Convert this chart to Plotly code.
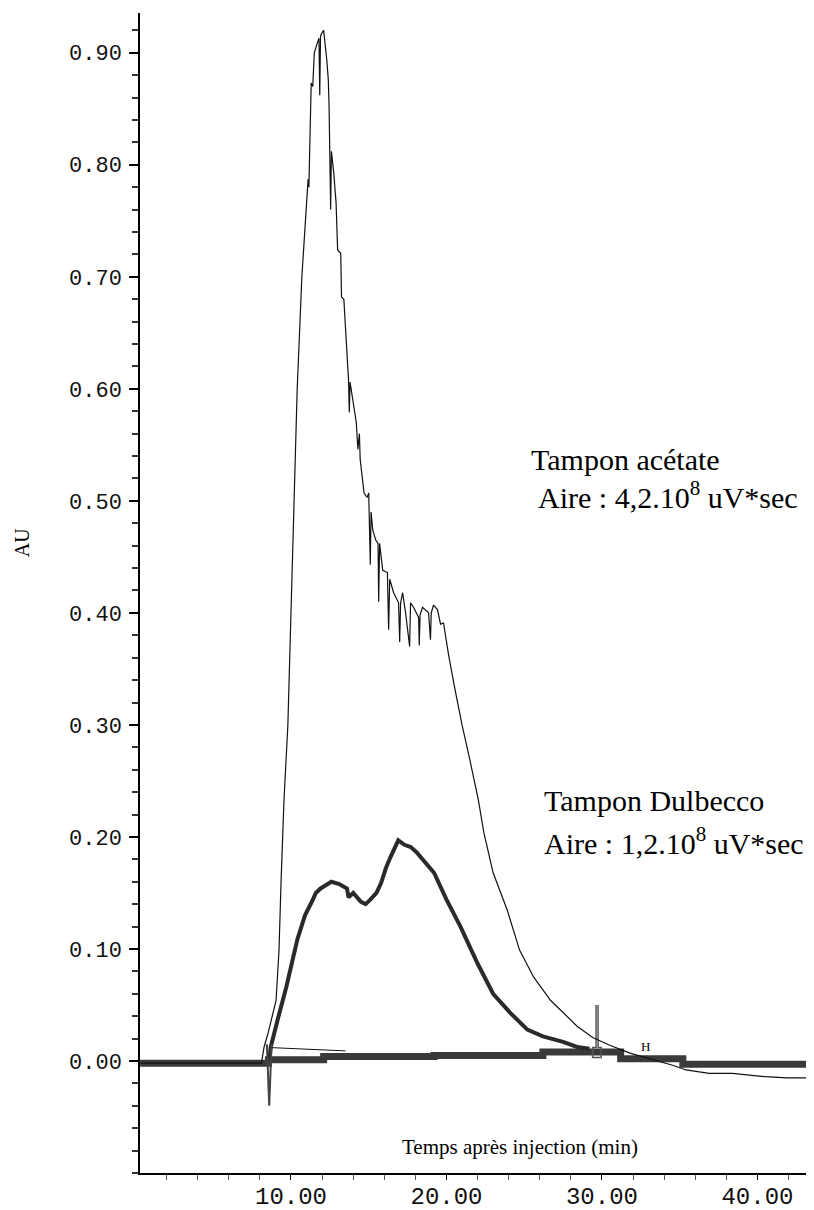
import plotly.graph_objects as go

# ---------------- data ----------------
# Tampon acétate: thin trace (time in min, absorbance in AU)
acetate_t = [0.3, 8.1, 8.27, 8.53, 9.04, 9.23, 9.36, 9.55, 9.8, 10.0, 10.2, 10.4, 10.7,
             10.96, 11.1, 11.15, 11.3, 11.4, 11.5, 11.7, 11.8, 11.85, 11.9, 12.0, 12.1,
             12.3, 12.4, 12.45, 12.5, 12.55, 12.6, 12.75, 12.9, 12.95, 13.0, 13.2, 13.25,
             13.4, 13.55, 13.7, 13.75, 13.8, 14.2, 14.3, 14.4, 14.45, 14.6, 14.7, 14.9,
             15.0, 15.1, 15.15, 15.26, 15.45, 15.6, 15.64, 15.7, 15.9, 16.2, 16.28, 16.35,
             16.6, 16.92, 16.99, 17.05, 17.18, 17.37, 17.63, 17.69, 17.88, 18.21, 18.25,
             18.3, 18.46, 18.85, 18.97, 19.02, 19.17, 19.42, 19.62, 19.81, 20.06, 20.13,
             20.5, 21.0, 21.5, 22.05, 22.4, 23.0, 23.9, 24.7, 25.6, 26.7, 27.3, 28.4,
             29.4, 30.5, 31.8, 33.9, 34.6, 35.4, 36.9, 38.4, 40.5, 41.9, 43.25]
acetate_au = [-0.002, -0.002, 0.0125, 0.025, 0.054, 0.099, 0.159, 0.233, 0.30, 0.40, 0.50, 0.60, 0.70,
              0.757, 0.787, 0.78, 0.873, 0.87, 0.90, 0.909, 0.913, 0.862, 0.915, 0.918, 0.92,
              0.894, 0.876, 0.852, 0.813, 0.76, 0.812, 0.793, 0.766, 0.745, 0.724, 0.721, 0.682,
              0.68, 0.64, 0.608, 0.579, 0.606, 0.57, 0.546, 0.56, 0.537, 0.519, 0.507, 0.503,
              0.507, 0.443, 0.49, 0.474, 0.465, 0.462, 0.41, 0.462, 0.438, 0.436, 0.385, 0.43,
              0.418, 0.409, 0.374, 0.409, 0.418, 0.40, 0.37, 0.409, 0.405, 0.396, 0.371,
              0.398, 0.405, 0.40, 0.376, 0.40, 0.407, 0.403, 0.39, 0.391, 0.367, 0.363,
              0.335, 0.30, 0.269, 0.233, 0.204, 0.168, 0.135, 0.099, 0.075, 0.054, 0.046, 0.031,
              0.021, 0.014, 0.007, -0.001, -0.004, -0.008, -0.011, -0.011, -0.014, -0.015, -0.015]

# Tampon Dulbecco: thick trace
dulbecco_t = [8.6, 8.7, 9.2, 9.7, 10.4, 10.9, 11.3, 11.6, 11.9, 12.3, 12.6, 13.1, 13.6, 13.7,
              14.0, 14.5, 14.8, 15.1, 15.5, 15.8, 16.1, 16.4, 16.7, 16.9, 17.3, 17.7, 18.1,
              18.5, 19.2, 20.0, 20.9, 22.0, 23.0, 24.1, 25.2, 26.2, 27.5, 28.4, 29.2]
dulbecco_au = [0.0, 0.0125, 0.04, 0.066, 0.108, 0.13, 0.141, 0.15, 0.154, 0.158, 0.16, 0.158, 0.154, 0.146,
               0.15, 0.142, 0.14, 0.144, 0.15, 0.159, 0.172, 0.182, 0.19, 0.197, 0.193, 0.191, 0.186,
               0.179, 0.168, 0.144, 0.12, 0.087, 0.06, 0.043, 0.028, 0.022, 0.017, 0.0125, 0.011]

# thick baseline band (stepped)
band_t = [0.3, 8.55, 12.1, 19.2, 26.2, 31.2, 35.2, 43.25]
band_au = [-0.002, 0.001, 0.004, 0.005, 0.008, 0.002, -0.003, -0.003]

# thin integration baseline under the acetate peak
intbase_t = [8.6, 13.5]
intbase_au = [0.012, 0.009]

# event marks (injection spike, end mark)
mark1_t = [8.45, 8.6, 8.75]
mark1_au = [0.015, -0.04, 0.015]
mark2_t = [29.62, 29.62, 29.4, 29.4, 29.95, 29.95, 29.75, 29.75]
mark2_au = [0.05, 0.012, 0.012, 0.003, 0.003, 0.012, 0.012, 0.05]

y_ticks = [0.0, 0.1, 0.2, 0.3, 0.4, 0.5, 0.6, 0.7, 0.8, 0.9]
y_ticktext = ["0.00", "0.10", "0.20", "0.30", "0.40", "0.50", "0.60", "0.70", "0.80", "0.90"]
x_ticks = [10, 20, 30, 40]
x_ticktext = ["10.00", "20.00", "30.00", "40.00"]

# ---------------- figure ----------------
fig = go.Figure()
fig.add_trace(go.Scatter(x=band_t, y=band_au, mode="lines", line_shape="hv",
                         line=dict(color="#3a3a3a", width=7), hoverinfo="skip", showlegend=False))
fig.add_trace(go.Scatter(x=dulbecco_t, y=dulbecco_au, mode="lines",
                         line=dict(color="#2a2a2a", width=4), name="Tampon Dulbecco", showlegend=False))
fig.add_trace(go.Scatter(x=intbase_t, y=intbase_au, mode="lines",
                         line=dict(color="#111111", width=1), hoverinfo="skip", showlegend=False))
fig.add_trace(go.Scatter(x=mark1_t, y=mark1_au, mode="lines",
                         line=dict(color="#444444", width=2), hoverinfo="skip", showlegend=False))
fig.add_trace(go.Scatter(x=mark2_t, y=mark2_au, mode="lines",
                         line=dict(color="#555555", width=1.5), hoverinfo="skip", showlegend=False))
fig.add_trace(go.Scatter(x=acetate_t, y=acetate_au, mode="lines",
                         line=dict(color="#111111", width=1.2), name="Tampon acétate", showlegend=False))

serif = "Liberation Serif, Times New Roman, serif"
mono = "Liberation Mono, Courier New, monospace"

fig.update_layout(
    width=814, height=1210,
    template="none",
    paper_bgcolor="white", plot_bgcolor="white",
    margin=dict(l=132, r=14, t=5, b=45),
    showlegend=False,
    xaxis=dict(range=[0.29, 43.25], showgrid=False, zeroline=False,
               showline=True, linecolor="black", linewidth=1.5, mirror=False,
               tickmode="array", tickvals=x_ticks, ticktext=x_ticktext,
               ticks="outside", ticklen=5, tickwidth=1, tickcolor="black",
               ticklabelstandoff=-5,
               tickfont=dict(family=mono, size=24, color="#111111"),
               minor=dict(dtick=2, tick0=0, ticks="outside", ticklen=5, tickcolor="#555555", showgrid=False),
               automargin=False),
    yaxis=dict(range=[-0.100, 0.9355], showgrid=False, zeroline=False,
               showline=True, linecolor="black", linewidth=1.5, mirror=False,
               tickmode="array", tickvals=y_ticks, ticktext=y_ticktext,
               ticks="outside", ticklen=9, tickwidth=1.5, tickcolor="black",
               ticklabelstandoff=3,
               tickfont=dict(family=mono, size=22, color="#111111"),
               minor=dict(dtick=0.02, tick0=0, ticks="outside", ticklen=6, tickwidth=1.5,
                          tickcolor="#333333", showgrid=False),
               automargin=False),
)

annots = [
    dict(x=25.3, y=0.537, text="Tampon acétate", size=30, xa="left"),
    dict(x=25.76, y=0.505, text="Aire : 4,2.10<sup>8</sup> uV*sec", size=30, xa="left"),
    dict(x=26.14, y=0.2325, text="Tampon Dulbecco", size=30, xa="left"),
    dict(x=26.14, y=0.1960, text="Aire : 1,2.10<sup>8</sup> uV*sec", size=30, xa="left"),
    dict(x=24.7, y=-0.0768, text="Temps après injection (min)", size=21, xa="center"),
    dict(x=32.77, y=0.0125, text="H", size=13, xa="center"),
]
for a in annots:
    fig.add_annotation(x=a["x"], y=a["y"], xref="x", yref="y", text=a["text"],
                       showarrow=False, xanchor=a["xa"], yanchor="middle",
                       font=dict(family=serif, size=a["size"], color="black"))

fig.add_annotation(x=-0.1766, y=0.543, xref="paper", yref="paper", text="AU",
                   textangle=-90, showarrow=False, xanchor="center", yanchor="middle",
                   font=dict(family=serif, size=20, color="black"))

fig.write_html("out.html")
